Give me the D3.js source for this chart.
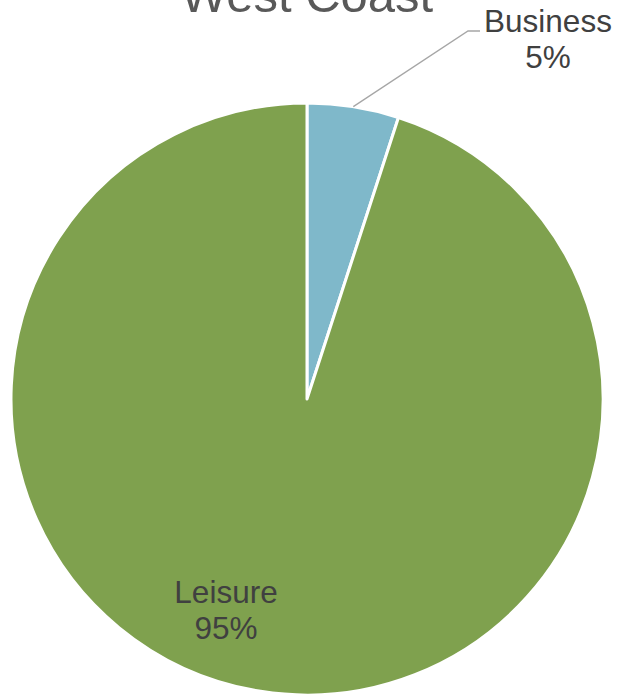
<!DOCTYPE html>
<html>
<head>
<meta charset="utf-8">
<style>
  body { margin: 0; background: #fff; }
  text { font-family: "Liberation Sans", Arial, sans-serif; }
</style>
</head>
<body>
<svg id="chart" width="620" height="694"></svg>
<script src="https://cdn.jsdelivr.net/npm/d3@7"></script>
<script>
// data
const categories = ["Business", "Leisure"];
const shares = [5, 95];
const sliceColors = ["#7FB8CA", "#7FA14E"];
const chartTitle = "West Coast";

const svg = d3.select("#chart");
const cx = 307, cy = 399, radius = 296;

const slices = categories.map((c, i) => ({ name: c, value: shares[i] }));

const pie = d3.pie()
    .value(d => d.value)
    .sort(null);

const arc = d3.arc()
    .innerRadius(0)
    .outerRadius(radius);

const colorScale = d3.scaleOrdinal()
    .domain(categories)
    .range(sliceColors);

const body = svg.append("g")
    .attr("transform", `translate(${cx},${cy})`);

const arcs = pie(slices);

body.selectAll("path")
    .data(arcs)
    .enter()
    .append("path")
    .attr("d", arc)
    .attr("fill", d => colorScale(d.data.name))
    .attr("stroke", "#fff")
    .attr("stroke-width", 3)
    .attr("stroke-linejoin", "round");

// title (cut off at the top like the original)
svg.append("text")
    .attr("x", cx)
    .attr("y", 12)
    .attr("text-anchor", "middle")
    .attr("font-size", 49)
    .attr("fill", "#595959")
    .text(chartTitle);

// Business label with leader line
const biz = arcs[0];
const midA = (biz.startAngle + biz.endAngle) / 2;
const p0 = [Math.sin(midA) * radius, -Math.cos(midA) * radius];
const bizLabel = { x: 548 - cx, y: 32 - cy };

body.append("path")
    .attr("d", d3.line()([p0, [468 - cx, 31 - cy], [480 - cx, 31 - cy]]))
    .attr("fill", "none")
    .attr("stroke", "#A6A6A6")
    .attr("stroke-width", 1.3);

const fmt = d => d.data.value + "%";

function addLabel(d, x, y) {
    const t = body.append("text")
        .attr("text-anchor", "middle")
        .attr("font-size", 31.5)
        .attr("fill", "#404040");
    t.append("tspan").attr("x", x).attr("y", y).text(d.data.name);
    t.append("tspan").attr("x", x).attr("y", y + 36).text(fmt(d));
}

addLabel(biz, bizLabel.x, bizLabel.y);
addLabel(arcs[1], 226 - cx, 603 - cy);
</script>
</body>
</html>
